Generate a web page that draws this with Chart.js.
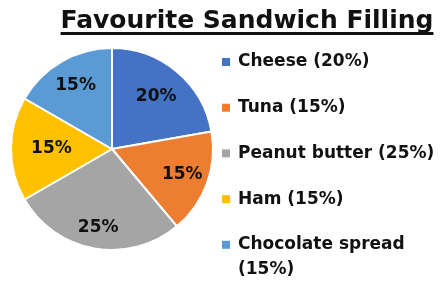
<!DOCTYPE html>
<html>
<head>
<meta charset="utf-8">
<script src="https://cdn.jsdelivr.net/npm/chart.js@4/dist/chart.umd.min.js"></script>
<style>
    html, body { margin: 0; padding: 0; background: #fff; }
    #wrap { width: 441px; height: 284px; }
</style>
</head>
<body>
<div id="wrap"><canvas id="pieChart"></canvas></div>
<script>
// Data
const chartTitle = 'Favourite Sandwich Filling';
const fillings = ['Cheese', 'Tuna', 'Peanut butter', 'Ham', 'Chocolate spread'];
const percentages = [20, 15, 25, 15, 15];

// Slice colours (Office palette)
const sliceColors = ['#4472C4', '#ED7D31', '#A5A5A5', '#FFC000', '#5B9BD5'];

const FONT = '"DejaVu Sans", sans-serif';
const TEXT_COLOR = '#111';

// How far out along each slice the % label sits (fraction of radius)
const labelDistance = [0.68, 0.74, 0.79, 0.6, 0.72];

// Draws the underlined title, the % labels and the legend
const overlayPlugin = {
    id: 'overlay',
    afterDatasetsDraw(chart) {
        const ctx = chart.ctx;
        const meta = chart.getDatasetMeta(0);
        ctx.save();

        // Percent labels inside slices
        ctx.font = 'bold 17px ' + FONT;
        ctx.fillStyle = TEXT_COLOR;
        ctx.textAlign = 'center';
        ctx.textBaseline = 'middle';
        meta.data.forEach((arc, i) => {
            const p = arc.getProps(['x', 'y', 'startAngle', 'endAngle', 'outerRadius'], true);
            const mid = (p.startAngle + p.endAngle) / 2;
            const r = p.outerRadius * labelDistance[i];
            ctx.fillText(percentages[i] + '%', p.x + Math.cos(mid) * r, p.y + Math.sin(mid) * r);
        });

        // Title with underline
        ctx.font = 'bold 25px ' + FONT;
        ctx.textBaseline = 'alphabetic';
        const titleX = 247;
        const titleW = ctx.measureText(chartTitle).width;
        ctx.fillText(chartTitle, titleX, 28);
        ctx.fillRect(titleX - titleW / 2, 32, titleW, 3);

        // Legend
        ctx.font = 'bold 17px ' + FONT;
        ctx.textAlign = 'left';
        ctx.textBaseline = 'middle';
        const maxTextWidth = 205;
        let y = 62;
        fillings.forEach((name, i) => {
            const label = name + ' (' + percentages[i] + '%)';
            let lines = [label];
            if (ctx.measureText(label).width > maxTextWidth) {
                const cut = label.lastIndexOf(' ');
                lines = [label.slice(0, cut), label.slice(cut + 1)];
            }
            ctx.fillStyle = sliceColors[i];
            ctx.fillRect(222, y - 4, 8, 8);
            ctx.fillStyle = TEXT_COLOR;
            lines.forEach((line, j) => ctx.fillText(line, 238, y + j * 25));
            y += 45.7;
        });

        ctx.restore();
    }
};

new Chart(document.getElementById('pieChart'), {
    type: 'pie',
    data: {
        labels: fillings,
        datasets: [{
            data: percentages,
            backgroundColor: sliceColors,
            borderColor: '#fff',
            borderWidth: 2
        }]
    },
    options: {
        responsive: true,
        maintainAspectRatio: false,
        animation: false,
        layout: {
            padding: { top: 47, left: 10, right: 227, bottom: 33 }
        },
        plugins: {
            legend: { display: false },
            title: { display: false },
            tooltip: { enabled: false }
        }
    },
    plugins: [overlayPlugin]
});
</script>
</body>
</html>
